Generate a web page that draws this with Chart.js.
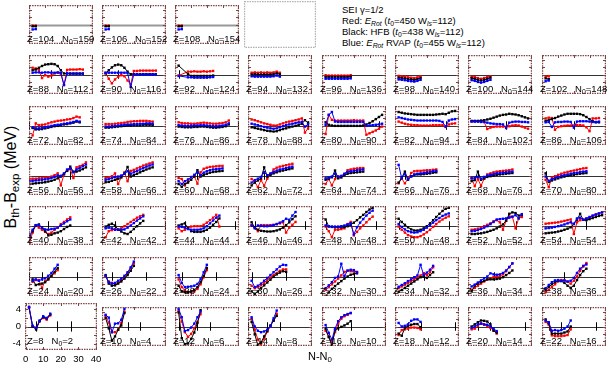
<!DOCTYPE html>
<html>
<head>
<meta charset="utf-8">
<script src="https://cdn.jsdelivr.net/npm/chart.js@4.4.1/dist/chart.umd.min.js"></script>
<style>
  body { margin: 0; background: #fff; }
  #wrap { position: relative; width: 612px; height: 374px; overflow: hidden;
          font-family: "Liberation Sans", Arial, sans-serif; color: #000; }
  #wrap canvas { position: absolute; }
  .lbl { position: absolute; font-size: 9.5px; line-height: 10px; white-space: pre; z-index: 2; }
  .lbl sub, .legend sub { font-size: 0.72em; vertical-align: -0.3em; line-height: 0; }
  .legend { position: absolute; left: 342px; top: 4px; font-size: 9.5px; line-height: 11px; white-space: pre; z-index: 2; }
  .ytitle { position: absolute; left: 11px; top: 177px; font-size: 16px; white-space: pre;
            transform: translate(-50%, -50%) rotate(-90deg); z-index: 2; }
  .ytitle sub, .xtitle sub { font-size: 0.72em; vertical-align: -0.3em; line-height: 0; }
  .xtitle { position: absolute; left: 320px; top: 356px; font-size: 11px; white-space: pre;
            transform: translate(-50%, -50%); z-index: 2; }
</style>
</head>
<body>
<div id="wrap">
  <div class="legend">SEI γ=1/2
Red: <i>E</i><sub><i>Rot</i></sub> (<i>t</i><sub>0</sub>=450 W<sub><i>ls</i></sub>=112)
Black: HFB (<i>t</i><sub>0</sub>=438 W<sub><i>ls</i></sub>=112)
Blue: <i>E</i><sub><i>Rot</i></sub> RVAP (<i>t</i><sub>0</sub>=455 W<sub><i>ls</i></sub>=112)</div>
  <div class="ytitle">B<sub>th</sub>-B<sub>exp</sub> (MeV)</div>
  <div class="xtitle">N-N<sub>0</sub></div>
</div>
<script>
// axis ticks (bottom-left panel only carries labels)
const xTickValues = [0, 10, 20, 30, 40];
const yTickValues = [-4, -2, 0, 2, 4];
const magicNumbers = [8, 20, 28, 50, 82, 126];

// panel grid, top row first
const gridZ = [
  [104, 106, 108, null],
  [88, 90, 92, 94, 96, 98, 100, 102],
  [72, 74, 76, 78, 80, 82, 84, 86],
  [56, 58, 60, 62, 64, 66, 68, 70],
  [40, 42, 44, 46, 48, 50, 52, 54],
  [24, 26, 28, 30, 32, 34, 36, 38],
  [8, 10, 12, 14, 16, 18, 20, 22]
];
const gridN0 = [
  [150, 152, 154, null],
  [112, 116, 124, 132, 136, 140, 144, 148],
  [82, 84, 86, 88, 90, 94, 102, 106],
  [56, 66, 68, 72, 74, 76, 76, 80],
  [38, 42, 44, 46, 48, 48, 52, 54],
  [20, 22, 24, 26, 30, 32, 34, 36],
  [2, 4, 6, 8, 10, 12, 14, 16]
];

// N-N0 positions
const nFrom0 = [0, 2, 4, 6, 8, 10, 12, 14, 16, 18, 20, 22, 24, 26, 28, 30, 32, 34, 36, 38];
const nFrom2 = [2, 4, 6, 8, 10, 12, 14, 16, 18, 20, 22, 24, 26, 28, 30, 32, 34, 36, 38];
const n92 = [2, 8, 10, 12, 14, 16, 18, 20, 22, 24];

// B_th - B_exp (MeV)
const red104 = [-0.3, -0.3], black104 = [-0.5, -0.5], blue104 = [-1.4, -1.3];
const red106 = [-0.3, -0.3], black106 = [-0.5, -0.5], blue106 = [-1.4, -1.3];
const red108 = [-0.3, -0.3], black108 = [-0.5, -0.5], blue108 = [-1.4, -1.3];

const red88 = [1.9, 1.7, 1.3, -1.0, -0.2, -0.6, -0.3, 0.3, 0.5, 0.2, -2.9, 1.3, 1.4, 1.4, 1.4, 1.5, 1.4];
const black88 = [1.2, 1.4, 1.9, 2.4, 2.8, 2.9, 3.0, 2.9, 2.4, 1.2, 0.3, 0.3, 0.3, 0.3, 0.3, 0.3, 0.3];
const blue88 = [0.5, 0.6, 0.6, 0.5, 0.6, 0.6, 0.5, 0.5, 0.6, 0.5, -3.0, 0.3, 0.2, 0.2, 0.2, 0.2, 0.2];
const red90 = [0.5, -1.2, -2.5, -1.4, -0.6, -0.2, -0.5, -1.7, -2.8, 1.0, 1.0, 1.1, 1.1, 1.1, 1.1, 1.1, 1.1];
const black90 = [0.3, 1.2, 2.0, 2.6, 2.8, 2.6, 1.9, 0.8, 0.1, 0.1, 0.1, 0.1, 0.1, 0.1, 0.1, 0.1, 0.1];
const blue90 = [0.5, 0.5, 0.5, 0.5, 0.5, 0.5, 0.5, 0.4, -3.5, 0.0, 0.0, 0.0, 0.0, 0.0, 0.0, 0.0, 0.0];
const red92 = [-0.3, 0.8, 0.8, 0.9, 0.8, 0.8, 0.9, 0.8, 0.9, 1.0];
const black92 = [2.5, 0.1, -0.4, -0.4, -0.4, -0.4, -0.4, -0.4, -0.4, -0.3];
const blue92 = [-0.4, -0.8, -0.8, -0.9, -0.9, -0.9, -0.9, -0.9, -0.8, -0.7];
const red94 = [0.5, 0.6, 0.5, 0.6, 0.5, 0.6, 0.5, 0.6, 0.8, 0.5];
const black94 = [0.0, 0.1, 0.0, 0.0, 0.0, 0.0, 0.0, 0.1, 0.3, 0.1];
const blue94 = [-0.5, -0.6, -0.6, -0.6, -0.6, -0.6, -0.6, -0.5, -0.3, -0.6];
const red96 = [-0.2, -0.3, -0.3, -0.3, -0.3, -0.3, -0.3, -0.3, -0.2];
const black96 = [-0.7, -0.7, -0.7, -0.7, -0.7, -0.7, -0.7, -0.7, -0.6];
const blue96 = [-1.2, -1.2, -1.2, -1.2, -1.2, -1.2, -1.2, -1.2, -1.1];
const red98 = [-0.4, -0.5, -0.6, -0.8, -0.9, -1.0, -0.8, -0.5];
const black98 = [-0.9, -1.0, -1.1, -1.3, -1.4, -1.5, -1.3, -1.0];
const blue98 = [-1.4, -1.5, -1.6, -1.8, -1.9, -2.0, -1.8, -1.5];
const red100 = [-0.6, -0.7, -1.0, -1.2, -1.0, -0.7, -0.5];
const black100 = [-1.0, -1.2, -1.5, -1.7, -1.5, -1.2, -0.9];
const blue100 = [-1.6, -1.8, -2.1, -2.3, -2.1, -1.8, -1.5];
const red102 = [-0.6, -0.5], black102 = [-1.1, -1.3], blue102 = [-1.9, -1.7];

const red72 = [-2.8, 0.6, 0.1, 0.2, 0.3, 0.6, 0.9, 1.1, 1.3, 1.4, 1.5, 1.7, 1.8, 2.1, 2.5, 2.3];
const black72 = [-0.7, -1.1, -1.1, -1.0, -0.8, -0.6, -0.4, -0.2, -0.1, 0.1, 0.3, 0.4, 0.6, 0.8, 1.1, 0.9];
const blue72 = [-0.5, -0.8, -0.8, -0.7, -0.5, -0.3, -0.1, 0.1, 0.2, 0.3, 0.5, 0.6, 0.8, 1.0, 1.3, 1.1];
const red74 = [0.4, 0.4, 0.4, 0.5, 0.6, 0.7, 0.8, 1.0, 1.1, 1.2, 1.2, 1.3, 1.3, 1.3, 1.2, 1.1];
const black74 = [-0.6, -0.6, -0.5, -0.4, -0.3, -0.2, -0.1, 0.0, 0.0, 0.1, 0.1, 0.1, 0.2, 0.2, 0.2, 0.1];
const blue74 = [-0.3, -0.3, -0.2, -0.1, 0.0, 0.1, 0.2, 0.3, 0.3, 0.4, 0.4, 0.5, 0.5, 0.6, 0.6, 0.5];
const red76 = [0.9, 0.7, 0.6, 0.6, 0.5, 0.5, 0.6, 0.7, 0.8, 0.7, 0.6, 0.5, 0.5, 0.6, 0.7, 0.9, 1.4];
const black76 = [-0.3, -0.4, -0.5, -0.5, -0.5, -0.4, -0.4, -0.3, -0.3, -0.4, -0.5, -0.6, -0.6, -0.5, -0.4, -0.2, 0.3];
const blue76 = [0.1, 0.0, -0.1, -0.1, -0.1, 0.0, 0.0, 0.1, 0.1, 0.0, -0.1, -0.2, -0.2, -0.1, 0.0, 0.2, 0.6];
const red78 = [1.7, 1.5, 1.2, 0.9, 0.6, 0.4, 0.2, 0.0, 0.0, 0.3, 0.6, 0.9, 1.1, 1.3, 1.5, 1.7, 2.0, -2.0, -0.8];
const black78 = [-0.5, -0.7, -0.9, -1.1, -1.3, -1.5, -1.6, -1.7, -1.6, -1.3, -1.0, -0.8, -0.5, -0.3, -0.1, 0.2, 0.5, 1.5, 0.8];
const blue78 = [0.5, 0.3, 0.1, -0.2, -0.4, -0.6, -0.8, -0.9, -0.8, -0.5, -0.2, 0.1, 0.3, 0.5, 0.7, 0.9, 1.0, -0.3, 0.3];
const red80 = [-2.4, 3.0, 1.6, 1.4, 1.4, 1.4, 1.4, 1.4, 1.4, 1.5, 1.4, 1.4, 1.4, -2.6, -2.2, -1.8, -1.4, -0.9, -0.3];
const black80 = [0.9, 0.2, 0.0, -0.1, -0.1, -0.1, -0.1, -0.1, -0.1, -0.1, -0.1, -0.1, 0.0, 0.3, 0.7, 1.2, 1.8, 2.4, 3.0];
const blue80 = [0.2, 3.0, 3.8, 1.1, 1.0, 1.0, 1.0, 1.0, 1.0, 1.0, 1.0, 1.0, 1.0, -0.1, 0.0, 0.1, 0.2, 0.3, 0.5];
const red82 = [1.1, 0.8, 0.5, 0.3, 0.2, 0.1, 0.1, 0.0, 0.0, 0.0, 0.0, 0.1, 0.1, 0.1, 0.1, -0.4, 0.3, 0.5, 0.6];
const black82 = [3.8, 3.6, 3.4, 3.3, 3.2, 3.1, 3.0, 3.0, 3.0, 3.0, 3.0, 3.0, 3.1, 3.2, 3.3, 3.2, 3.6, 4.0, 4.1];
const blue82 = [2.3, 2.1, 1.9, 1.7, 1.6, 1.5, 1.4, 1.4, 1.4, 1.4, 1.4, 1.4, 1.4, 1.3, 1.0, -0.3, 1.4, 1.7, 1.8];
const red84 = [1.2, 1.2, 1.2, 1.1, 1.0, -1.0, -0.6, -0.4, -0.3, -0.3, -0.3, -0.4, -0.2, 0.0, 0.1, 0.0, -0.3, -0.6, -0.9];
const black84 = [1.3, 1.3, 1.3, 1.4, 1.5, 1.7, 1.9, 2.2, 2.5, 2.8, 3.0, 3.1, 3.3, 3.2, 3.1, 2.9, 2.6, 2.3, 2.0];
const blue84 = [1.1, 1.1, 1.1, 1.0, 1.0, 0.8, 0.6, 0.5, 0.4, 0.4, 0.3, -0.7, 0.8, 1.0, 1.1, 1.1, 1.0, 1.0, 0.9];
const red86 = [2.0, 2.2, 2.1, -1.2, -0.4, -0.2, -0.1, 0.0, 0.0, 0.0, 0.1, 0.1, 0.0, -0.5, -1.6, 2.0, 2.0, 2.1];
const black86 = [1.3, 1.5, 1.8, 2.1, 2.5, 2.8, 3.1, 3.3, 3.3, 3.3, 3.3, 3.2, 2.9, 2.4, 1.8, 1.2, 0.9, 0.9];
const blue86 = [0.9, 1.0, -0.4, 0.9, 1.0, 1.0, 1.1, 1.1, 1.0, -0.6, 1.1, 1.2, 1.2, 1.2, 1.1, 1.0, 1.0, 1.1];

const red56 = [-1.0, -0.9, -0.9, -0.8, -0.7, -0.6, -0.5, -0.3, 0.1, 0.6, -2.8, 0.3, 1.4, 1.8, -0.7, 2.3, 2.6, 3.0, 3.7];
const black56 = [-2.4, -2.3, -2.2, -2.1, -2.0, -1.9, -1.7, -1.5, -1.2, -0.8, -0.3, 0.4, 1.3, 2.5, 1.1, 1.1, 1.4, 1.8, 2.3];
const blue56 = [-1.6, -1.5, -1.4, -1.3, -1.2, -1.1, -0.9, -0.7, -0.4, 0.0, -0.1, 0.6, 1.7, 2.0, 0.9, 1.7, 2.1, 2.6, 3.1];
const red58 = [-0.7, -0.5, -0.2, 0.6, -2.4, -0.5, 0.9, -1.6, 1.3, 1.6, 2.0, 2.4, 2.8, 3.1, 3.4, 3.7];
const black58 = [-1.9, -1.8, -1.5, -1.2, -0.9, -0.5, 0.5, 2.4, -0.3, 0.1, 0.5, 0.9, 1.3, 1.7, 2.0, 2.3];
const blue58 = [-1.2, -1.0, -0.7, -0.4, -0.3, 0.0, 0.5, 1.2, 0.5, 0.9, 1.3, 1.7, 2.1, 2.5, 2.8, 3.1];
const red60 = [-0.7, -1.0, -2.8, -1.6, -0.4, -0.2, -2.3, 0.9, 1.9, 2.2, 2.4, 2.5, 2.6, 2.7, 2.7];
const black60 = [-2.4, -3.2, -2.4, -2.0, -1.2, -0.3, 1.5, -0.3, 0.2, 0.5, 0.8, 1.0, 1.1, 1.2, 1.3];
const blue60 = [-1.6, -2.4, -1.6, -1.1, -0.5, 0.2, 0.9, 0.1, 0.8, 1.2, 1.5, 1.7, 1.8, 1.9, 2.0];
const red62 = [-1.0, -1.8, -3.3, -1.3, -2.9, -0.9, 0.3, 1.7, 2.2, 2.5, 2.7, 2.9, 3.1, 3.3];
const black62 = [-2.8, -2.0, -1.4, -0.8, 2.3, -0.3, 0.2, 0.6, 0.9, 1.2, 1.4, 1.6, 1.8, 2.0];
const blue62 = [-2.0, -1.3, -0.9, -0.4, 0.9, 0.1, 0.6, 1.0, 1.4, 1.7, 1.9, 2.1, 2.3, 2.5];
const red64 = [-2.4, -1.0, -2.8, -1.0, -0.3, -0.5, 0.4, 1.5, 1.7, 1.9, 2.0, 2.1, 2.1];
const black64 = [-1.2, -0.9, -0.5, 1.4, -0.8, -0.5, 0.1, 0.5, 0.7, 0.8, 0.9, 1.0, 1.1];
const blue64 = [-0.8, -0.6, -0.3, 0.5, -0.3, -0.1, 0.5, 1.0, 1.2, 1.3, 1.5, 1.6, 1.7];
const red66 = [-2.2, -0.9, -2.2, -0.9, 0.7, 1.2, 1.3, 1.3, 1.4, 1.5, 1.5, 1.6, 1.7];
const black66 = [-2.0, -0.6, 1.1, -1.2, -0.2, 0.2, 0.3, 0.3, 0.4, 0.5, 0.6, 0.8, 0.9];
const blue66 = [3.0, -0.8, 0.4, -1.0, -0.3, 0.3, 0.5, 0.6, 0.7, 0.9, 1.0, 1.2, 1.3];
const red68 = [-0.8, -3.0, -1.0, -2.9, -0.9, 0.3, 0.6, 0.9, 1.1, 1.2, 1.3, 1.4, 1.5, 1.7];
const black68 = [-1.6, -1.3, 1.1, -1.2, -0.8, -0.4, -0.2, 0.0, 0.2, 0.3, 0.4, 0.5, 0.6, 0.7];
const blue68 = [-0.8, -0.7, -0.4, -0.9, -0.4, 0.0, 0.2, 0.4, 0.6, 0.7, 0.8, 0.9, 1.0, 1.1];
const red70 = [-1.2, -3.3, -0.6, -0.2, 0.2, 0.5, 0.8, 1.0, 1.2, 1.4, 1.6, 1.8, 2.0, 2.1];
const black70 = [0.6, -1.8, -1.4, -1.1, -0.8, -0.5, -0.3, -0.1, 0.1, 0.2, 0.4, 0.5, 0.6, 0.7];
const blue70 = [-0.3, -1.5, -1.0, -0.7, -0.4, -0.1, 0.1, 0.3, 0.5, 0.7, 0.8, 1.0, 1.1, 1.2];

const red40 = [-5.0, -2.0, 0.0, -0.6, -1.2, -1.8, -2.4, -2.0, -1.2, -0.5, 0.4, 1.0, 1.7, 2.3];
const black40 = [-3.3, -1.6, 0.0, 0.3, -0.6, -1.6, -2.8, -2.6, -2.2, -2.0, -1.6, -1.0, -0.4, 0.0];
const blue40 = [-3.0, -1.2, 0.1, 0.1, -0.7, -1.1, -1.2, -1.0, -0.9, -0.6, 0.0, 0.6, 1.2, 1.7];
const red42 = [-3.3, -1.6, -1.3, -1.0, -1.2, -0.8, -0.2, 0.4, 1.0, 1.6, 2.2, 2.6, 3.0];
const black42 = [-0.3, 0.2, 0.5, 0.0, -1.2, -1.7, -2.2, -2.4, -1.8, -1.0, -0.2, 0.6, 1.3];
const blue42 = [-0.8, -0.6, -0.8, -1.2, -1.2, -1.2, -1.1, -0.6, 0.0, 0.7, 1.4, 2.0, 2.6];
const red44 = [-0.8, -1.6, -1.2, -0.6, -0.3, -0.2, -0.2, -0.2, 0.2, 0.8, 1.5, 2.2, 3.0, -0.3];
const black44 = [0.0, 0.3, 0.6, -0.8, -1.6, -1.8, -1.8, -1.8, -1.6, -1.2, -0.6, 0.2, 1.0, 2.0];
const blue44 = [-0.3, -0.4, -0.6, -1.0, -1.2, -1.2, -1.2, -1.1, -0.8, -0.2, 0.6, 1.4, 2.2, 2.8];
const red46 = [0.1, -0.5, -1.6, 0.1, 0.1, 0.1, 0.1, 0.2, 0.4, 0.6, 0.9, -2.0, -0.6, 0.2, 1.0];
const black46 = [0.9, -0.5, -1.2, -1.5, -1.6, -1.7, -1.7, -1.6, -1.4, -1.1, -0.6, 0.1, 0.9, 1.8, 2.6];
const blue46 = [0.0, -0.8, 0.0, -0.1, -0.2, -0.2, -0.1, 0.1, 0.4, 0.8, 1.2, 1.9, 1.6, 2.8, 3.8];
const red48 = [-0.3, -1.6, -3.3, -1.2, -1.2, -1.0, -0.8, 0.4, 1.0, -2.8, -1.8, -0.8, 0.0, 0.9, 1.8, 2.5];
const black48 = [1.7, -0.3, -0.4, -0.5, -0.5, -0.5, -0.4, -0.2, 0.2, 0.8, 1.5, 2.3, 3.0, 3.8, 4.5, 5.0];
const blue48 = [0.0, -0.2, -0.3, -0.3, -0.3, -0.2, 0.0, 0.3, 0.6, -2.5, -0.5, 0.8, 1.8, 2.8, 3.6, 4.2];
const red50 = [-0.3, -1.2, -2.0, -2.7, -3.1, -3.3, -3.3, -3.0, -2.5, -1.9, -1.2, -0.4, 0.4, 1.1, 1.7, 2.2, 2.6];
const black50 = [1.9, 1.0, 0.2, -0.5, -1.1, -1.4, -1.4, -1.2, -0.8, -0.2, 0.6, 1.5, 2.4, 3.3, 4.1, 4.7, 5.0];
const blue50 = [0.4, -0.4, -1.1, -1.6, -1.9, -2.0, -1.9, -1.6, -1.2, -0.6, 0.1, 0.8, 1.5, 2.1, 2.7, 3.1, 3.4];
const red52 = [-1.2, -1.1, -0.9, -0.6, -0.2, 0.2, 0.6, 1.2, 1.5, 0.9, -1.2, 1.3, 2.6, 2.4, -0.8, 2.0, 2.4];
const black52 = [-2.4, -2.4, -2.3, -2.2, -2.0, -1.8, -1.5, -1.2, -0.8, -0.3, 0.3, 1.4, 3.3, 3.7, 3.5, 2.8, 3.0];
const blue52 = [-1.6, -1.5, -1.3, -1.0, -0.6, -0.2, 0.4, 1.0, 1.7, 1.8, 1.9, 2.0, 2.2, 2.5, 2.9, 2.0, 3.2];
const red54 = [0.5, 0.6, 0.7, 0.8, 0.9, 1.1, 1.3, 1.5, 1.7, -2.4, 0.9, 1.5, 1.6, 1.9, 2.3, 2.7, 3.1, 3.4, 3.7];
const black54 = [-2.2, -2.1, -2.0, -1.9, -1.7, -1.5, -1.2, -0.9, -0.5, 0.4, 1.6, 3.3, 1.6, 1.5, 1.8, 2.1, 2.4, 2.7, 2.9];
const blue54 = [-0.8, -0.7, -0.6, -0.4, -0.2, 0.0, 0.3, 0.6, 0.9, 0.5, 2.0, 2.2, 1.6, 2.0, 2.4, 2.8, 3.1, 3.4, 3.7];

const red24 = [-1.5, -1.0, -1.0, -3.3, -1.2, -0.8, 0.2, 0.9, 1.8];
const black24 = [-0.8, -2.4, -2.2, -2.0, -1.6, -0.8, 0.2, 1.3, 2.4];
const blue24 = [-1.2, -0.8, -1.2, -0.8, -0.5, 0.2, 1.0, 2.2, 3.3];
const red26 = [0.0, -1.4, -1.8, -2.2, -1.6, -1.0, -0.2, 0.9, 2.3, 3.7];
const black26 = [0.4, -2.0, -2.6, -2.5, -2.0, -1.4, -0.6, 0.4, 1.6, 3.0];
const blue26 = [0.2, -1.6, -2.0, -1.8, -1.2, -0.6, 0.2, 1.2, 2.6, 4.2];
const red28 = [-0.8, -3.0, -3.9, -4.4, -4.4, -4.2, -3.5, -2.2, -0.2, 1.8];
const black28 = [-2.6, -4.2, -4.4, -4.4, -4.2, -3.8, -3.0, -1.6, 0.2, 2.4];
const blue28 = [0.4, -1.8, -3.0, -2.9, -2.8, -2.6, -2.1, -0.8, 1.2, 3.3];
const red30 = [-2.6, -3.3, -3.0, -2.5, -1.8, -1.0, -0.3, 0.4, 1.0, 1.6, 2.0, 2.0];
const black30 = [-4.2, -5.0, -4.2, -3.3, -2.5, -1.7, -0.9, -0.1, 0.6, 1.1, 1.5, 1.3];
const blue30 = [-1.2, -3.0, -2.6, -2.0, -1.2, -0.4, 0.4, 1.2, 2.0, 2.8, 3.3, 3.2];
const red32 = [-3.8, -3.0, -2.2, -1.4, -0.6, 0.3, 1.3, 1.6, 1.5, 1.4, 1.3];
const black32 = [-5.5, -4.5, -3.5, -2.7, -2.0, -1.3, -0.6, 0.0, 0.5, 0.7, 0.9];
const blue32 = [-3.3, -2.5, -1.6, -0.4, 0.0, 3.6, 0.1, 1.7, 1.9, 1.8, 1.2];
const red34 = [-3.3, -2.8, -2.3, -1.8, -1.3, -0.8, -0.3, 0.3, 0.9, 0.4, 1.2, 2.6];
const black34 = [-4.3, -3.8, -3.2, -2.6, -2.0, -1.4, -0.8, -0.2, 0.0, -0.4, 0.4, 1.2];
const blue34 = [-2.9, -2.4, -1.9, -1.3, -0.8, -0.2, 0.3, 3.3, 0.4, 1.1, 1.9, 3.0];
const red36 = [-3.8, -3.2, -2.6, -2.0, -1.4, -0.9, -0.5, -0.2, 0.0, 0.1, 0.6, 1.5, 2.6, 3.7];
const black36 = [-4.2, -2.6, -2.0, -1.6, -1.2, -0.8, -0.8, -0.8, -0.7, -0.6, -0.2, 0.4, 1.0, 1.7];
const blue36 = [-2.8, -2.3, -1.7, -1.1, -0.5, 0.0, 0.9, 0.6, 0.5, 0.6, 1.0, 1.7, 2.7, 3.7];
const red38 = [-4.4, -3.8, -3.0, -2.2, -1.4, -1.0, -1.1, -1.5, -2.0, -1.2, 0.0, 1.6, 2.8, 3.8];
const black38 = [-3.8, -3.0, -2.2, -1.6, -1.2, -1.3, -1.8, -2.6, -3.2, -2.6, -1.0, 0.4, 1.5, 2.2];
const blue38 = [-3.3, -2.4, -1.6, -1.1, -1.0, -1.2, -1.1, -1.4, -1.2, -0.4, 1.0, 2.2, 3.0, 3.4];

const red8 = [4.3, 0.0, -0.4, 1.2, 2.0, 1.6, 2.6];
const black8 = [4.6, 0.0, -0.7, 1.3, 2.2, 1.9, 2.8];
const blue8 = [4.5, 0.2, -0.3, 1.4, 2.4, 2.0, 3.0];
const red10 = [3.0, 1.1, -1.6, -1.6, -0.9, 1.0, 4.2];
const black10 = [2.4, -0.5, -4.0, -2.8, -0.9, 0.3, 3.8];
const blue10 = [3.3, 2.5, -1.6, 0.8, 0.9, 1.9, 5.0];
const red12 = [4.4, 1.4, -1.6, -2.9, -2.1, -0.5, 1.3, 3.5];
const black12 = [4.0, -3.3, -5.0, -4.8, -3.5, -1.7, 1.0, 4.6];
const blue12 = [5.0, 2.6, -1.3, -1.0, -0.3, 0.8, 2.6, 4.2];
const red14 = [2.1, -0.9, -3.7, -5.0, -3.4, -1.5, 0.1, 1.8, 3.6];
const black14 = [1.3, -2.2, -5.3, -4.5, -2.8, -1.2, 0.3, 1.6, 3.0];
const blue14 = [2.6, 0.0, -1.2, -1.6, -1.4, -0.9, 0.1, 2.3, 4.5];
const red16 = [-1.2, -2.8, -4.5, -1.6, 0.8, 2.2, 2.9, 3.3, 3.8];
const black16 = [-0.6, -3.0, -5.3, -1.0, -0.5, -0.1, 0.3, 0.8, 1.5];
const blue16 = [0.4, -1.8, -3.7, -0.6, 1.5, 2.6, 3.2, 3.5, 3.8];
const red18 = [-2.4, -1.0, -0.8, -0.6, -0.3, -0.3, -0.4, -0.8];
const black18 = [-2.0, -2.6, -0.4, 0.2, 0.5, 0.7, 0.7, -0.2];
const blue18 = [1.0, 0.0, 0.2, 0.6, 1.6, 2.0, 2.0, 1.3];
const red20 = [-0.8, -0.6, 0.2, 0.9, 0.5, 0.1, -0.4, -1.0, -2.0];
const black20 = [0.0, 0.6, 1.2, 1.7, 1.6, 1.4, 0.6, -1.2, -1.7];
const blue20 = [-0.4, 0.0, 0.6, 0.8, 0.6, 0.5, 0.0, -0.6, -1.3];
const red22 = [1.3, 0.5, -2.5, -2.7, -2.7, -2.7, -2.6, -2.4, -0.8];
const black22 = [2.0, 0.9, -2.0, -2.0, -2.0, -2.0, -1.7, -1.4, 0.0];
const blue22 = [1.7, 1.2, -1.2, -1.0, -1.2, -1.0, -0.6, 0.0, 1.7];

// lookup table built from the arrays above: Z -> [N-N0 list, red, black, blue]
const seriesByZ = {
  104: [nFrom2, red104, black104, blue104], 106: [nFrom2, red106, black106, blue106],
  108: [nFrom2, red108, black108, blue108],
  88: [nFrom2, red88, black88, blue88], 90: [nFrom2, red90, black90, blue90],
  92: [n92, red92, black92, blue92], 94: [nFrom2, red94, black94, blue94],
  96: [nFrom2, red96, black96, blue96], 98: [nFrom2, red98, black98, blue98],
  100: [nFrom2, red100, black100, blue100], 102: [nFrom2, red102, black102, blue102],
  72: [nFrom2, red72, black72, blue72], 74: [nFrom2, red74, black74, blue74],
  76: [nFrom2, red76, black76, blue76], 78: [nFrom2, red78, black78, blue78],
  80: [nFrom2, red80, black80, blue80], 82: [nFrom2, red82, black82, blue82],
  84: [nFrom2, red84, black84, blue84], 86: [nFrom2, red86, black86, blue86],
  56: [nFrom0, red56, black56, blue56], 58: [nFrom2, red58, black58, blue58],
  60: [nFrom2, red60, black60, blue60], 62: [nFrom2, red62, black62, blue62],
  64: [nFrom2, red64, black64, blue64], 66: [nFrom2, red66, black66, blue66],
  68: [nFrom2, red68, black68, blue68], 70: [nFrom2, red70, black70, blue70],
  40: [nFrom0, red40, black40, blue40], 42: [nFrom2, red42, black42, blue42],
  44: [nFrom2, red44, black44, blue44], 46: [nFrom2, red46, black46, blue46],
  48: [nFrom2, red48, black48, blue48], 50: [nFrom2, red50, black50, blue50],
  52: [nFrom2, red52, black52, blue52], 54: [nFrom2, red54, black54, blue54],
  24: [nFrom2, red24, black24, blue24], 26: [nFrom2, red26, black26, blue26],
  28: [nFrom2, red28, black28, blue28], 30: [nFrom2, red30, black30, blue30],
  32: [nFrom2, red32, black32, blue32], 34: [nFrom2, red34, black34, blue34],
  36: [nFrom2, red36, black36, blue36], 38: [nFrom2, red38, black38, blue38],
  8: [nFrom2, red8, black8, blue8], 10: [nFrom2, red10, black10, blue10],
  12: [nFrom2, red12, black12, blue12], 14: [nFrom2, red14, black14, blue14],
  16: [nFrom2, red16, black16, blue16], 18: [nFrom2, red18, black18, blue18],
  20: [nFrom2, red20, black20, blue20], 22: [nFrom2, red22, black22, blue22]
};

// geometry
const X_MIN = -0.3, X_MAX = 40.5, Y_MIN = -5.5, Y_MAX = 5.5;
const PANEL_X0 = 24.5, PITCH_X = 73.3, PANEL_W = 72;
const PANEL_Y0 = 1, PITCH_Y = 50.3, PANEL_H = 47;
const MAGIC_HALF = 1.2;
const FRAME = '#7b4545';

Chart.defaults.font.family = '"Liberation Sans", Arial, sans-serif';
Chart.defaults.font.size = 9.5;
Chart.defaults.color = '#000';

const framePlugin = {
  id: 'frame',
  beforeDatasetsDraw(chart, args, opts) {
    if (opts.empty) return;
    const {ctx, chartArea: a, scales: {x, y}} = chart;
    ctx.save();
    const y0 = Math.round(y.getPixelForValue(0)) + 0.5;
    ctx.strokeStyle = opts.topRow ? '#999' : '#333';
    ctx.lineWidth = opts.topRow ? 2 : 1.2;
    ctx.beginPath();
    ctx.moveTo(a.left, y0);
    ctx.lineTo(a.right, y0);
    ctx.stroke();
    ctx.strokeStyle = '#000';
    ctx.lineWidth = 1;
    magicNumbers.forEach(m => {
      const d = m - opts.n0;
      if (d < X_MIN || d > X_MAX) return;
      const px = Math.round(x.getPixelForValue(d)) + 0.5;
      ctx.beginPath();
      ctx.moveTo(px, y.getPixelForValue(MAGIC_HALF));
      ctx.lineTo(px, y.getPixelForValue(-MAGIC_HALF));
      ctx.stroke();
    });
    ctx.restore();
  },
  afterDatasetsDraw(chart, args, opts) {
    const {ctx, chartArea: a, scales: {x, y}} = chart;
    ctx.save();
    ctx.strokeStyle = opts.empty ? '#b0b0b0' : FRAME;
    ctx.lineWidth = 1.2;
    ctx.setLineDash([1.5, 1]);
    ctx.strokeRect(a.left + 0.6, a.top + 0.6, a.width - 1.2, a.height - 1.2);
    ctx.setLineDash([]);
    if (!opts.empty) {
      ctx.lineWidth = 1;
      ctx.beginPath();
      xTickValues.forEach(v => {
        const px = Math.round(x.getPixelForValue(v)) + 0.5;
        ctx.moveTo(px, a.bottom); ctx.lineTo(px, a.bottom - 3);
        ctx.moveTo(px, a.top); ctx.lineTo(px, a.top + 3);
      });
      yTickValues.forEach(v => {
        const py = Math.round(y.getPixelForValue(v)) + 0.5;
        ctx.moveTo(a.left, py); ctx.lineTo(a.left + 3, py);
        ctx.moveTo(a.right, py); ctx.lineTo(a.right - 3, py);
      });
      ctx.stroke();
    }
    ctx.restore();
  }
};

function seriesDataset(n, values, color, order) {
  return {
    data: values.map((v, i) => ({x: n[i], y: v})),
    borderColor: color,
    backgroundColor: color,
    borderWidth: 1,
    pointRadius: 1.7,
    pointStyle: 'rect',
    pointBorderWidth: 0,
    tension: 0,
    order: order
  };
}

const wrap = document.getElementById('wrap');

gridZ.forEach((rowZ, r) => {
  rowZ.forEach((z, c) => {
    const left = Math.round(PANEL_X0 + c * PITCH_X);
    const top = Math.round(PANEL_Y0 + r * PITCH_Y);
    const n0 = gridN0[r][c];
    const withAxes = (r === gridZ.length - 1 && c === 0);
    const padTop = withAxes ? 12 : 0, padRight = withAxes ? 12 : 0;
    const axisH = withAxes ? 18 : 0;
    const canvas = document.createElement('canvas');
    const cx = withAxes ? 0 : left;
    canvas.width = (left - cx) + PANEL_W + padRight;
    canvas.height = PANEL_H + padTop + axisH;
    canvas.style.left = cx + 'px';
    canvas.style.top = (top - padTop) + 'px';
    wrap.appendChild(canvas);

    let datasets = [];
    if (z !== null) {
      const [n, red, black, blue] = seriesByZ[z];
      datasets = [
        seriesDataset(n, red, '#ff0000', 3),
        seriesDataset(n, black, '#000000', 2),
        seriesDataset(n, blue, '#0000ff', 1)
      ];
    }

    const xScale = {
      type: 'linear', min: X_MIN, max: X_MAX, display: withAxes,
      grid: {display: false, drawTicks: false},
      border: {display: false},
      ticks: {padding: 4, maxRotation: 0, includeBounds: false},
      afterBuildTicks: s => { s.ticks = xTickValues.map(v => ({value: v})); }
    };
    const yScale = {
      type: 'linear', min: Y_MIN, max: Y_MAX, display: withAxes,
      grid: {display: false, drawTicks: false},
      border: {display: false},
      ticks: {padding: 4, includeBounds: false},
      afterBuildTicks: s => { s.ticks = yTickValues.map(v => ({value: v})); }
    };
    if (withAxes) {
      xScale.afterFit = s => { s.height = axisH; };
      yScale.afterFit = s => { s.width = left; };
    }

    new Chart(canvas, {
      type: 'line',
      data: {datasets},
      options: {
        responsive: false,
        animation: false,
        devicePixelRatio: 1,
        layout: {padding: {top: padTop, right: padRight, left: 0, bottom: 0}},
        plugins: {
          legend: {display: false},
          tooltip: {enabled: false},
          frame: {n0: n0, empty: z === null, topRow: r === 0}
        },
        scales: {x: xScale, y: yScale}
      },
      plugins: [framePlugin]
    });

    if (z !== null) {
      const lbl = document.createElement('div');
      lbl.className = 'lbl';
      lbl.style.left = (left + 2) + 'px';
      lbl.style.top = (top + 33) + 'px';
      lbl.innerHTML = 'Z=' + z + '   N<sub>0</sub>=' + n0;
      wrap.appendChild(lbl);
    }
  });
});
</script>
</body>
</html>
